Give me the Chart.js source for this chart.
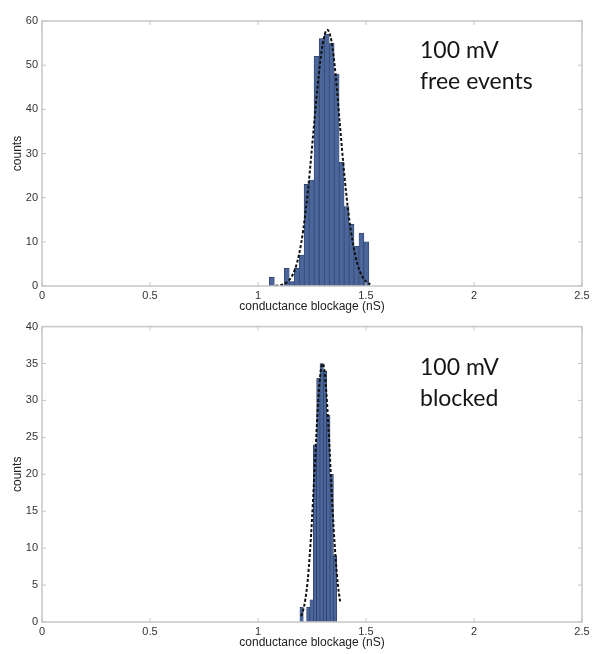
<!DOCTYPE html>
<html>
<head>
<meta charset="utf-8">
<script src="https://cdn.jsdelivr.net/npm/chart.js@4"></script>
<style>
    body { margin: 0; background: #fff; width: 599px; height: 654px; position: relative; overflow: hidden; }
    canvas { position: absolute; left: 0; }
    .note { position: absolute; left: 420px; font-family: Lato, "Open Sans", sans-serif; font-size: 23px; line-height: 31px; color: #151515; }
</style>
</head>
<body>
<canvas id="histTop" width="599" height="316" style="top:0"></canvas>
<canvas id="histBottom" width="599" height="338" style="top:316px"></canvas>
<div class="note" style="top:34px">100 mV<br>free events</div>
<div class="note" style="top:351px">100 mV<br>blocked</div>

<script>
// free events, 100 mV
const topBinCenters = [1.064, 1.087, 1.110, 1.133, 1.156, 1.179, 1.202, 1.225, 1.248, 1.271,
                       1.295, 1.318, 1.341, 1.364, 1.387, 1.410, 1.433, 1.456, 1.479, 1.502];
const topCounts = [2, 0, 0, 4, 1, 4, 7, 23, 24, 52, 56, 57, 55, 48, 28, 18, 14, 9, 12, 10];
const topFitX = [1.08, 1.10, 1.12, 1.14, 1.16, 1.18, 1.20, 1.22, 1.24, 1.26, 1.28, 1.30,
                 1.32, 1.34, 1.36, 1.38, 1.40, 1.42, 1.44, 1.46, 1.48, 1.50, 1.52];
const topFitY = [0.05, 0.15, 0.4, 1.1, 2.5, 5.1, 9.7, 16.7, 26, 36.8, 47.3, 54.9,
                 58, 55.5, 47.5, 36, 25, 16, 9.5, 5, 2.4, 1, 0.4];

// blocked, 100 mV
const botBinCenters = [1.2018, 1.2173, 1.2328, 1.2483, 1.2638, 1.2793, 1.2948, 1.3103, 1.3258, 1.3413, 1.3568];
const botCounts = [2, 0, 2, 3, 24, 33, 35, 34, 28, 20, 9];
const botFitX = [1.20, 1.21, 1.22, 1.23, 1.24, 1.25, 1.26, 1.27, 1.28, 1.29, 1.30,
                 1.31, 1.32, 1.33, 1.34, 1.35, 1.36, 1.37, 1.38];
const botFitY = [0.8, 1.7, 3.2, 5.6, 9.2, 13.9, 19.5, 25.3, 30.5, 33.9, 35,
                 33.4, 29.5, 24.2, 18.3, 12.8, 8.4, 5, 2.8];

const xTitle = 'conductance blockage (nS)';
const yTitle = 'counts';

const boxPlugin = {
    id: 'box',
    afterDatasetsDraw(chart) {
        const { ctx, chartArea: a, scales: { x, y } } = chart;
        ctx.save();
        ctx.strokeStyle = '#c6c6c6';
        ctx.lineWidth = 1.5;
        ctx.strokeRect(a.left, a.top, a.right - a.left, a.bottom - a.top);
        ctx.lineWidth = 1;
        ctx.beginPath();
        x.ticks.forEach(t => {
            const px = x.getPixelForValue(t.value);
            ctx.moveTo(px, a.bottom); ctx.lineTo(px, a.bottom - 4);
            ctx.moveTo(px, a.top); ctx.lineTo(px, a.top + 4);
        });
        y.ticks.forEach(t => {
            const py = y.getPixelForValue(t.value);
            ctx.moveTo(a.left, py); ctx.lineTo(a.left + 4, py);
            ctx.moveTo(a.right, py); ctx.lineTo(a.right - 4, py);
        });
        ctx.stroke();
        ctx.restore();
    }
};

function makeHist(canvas, centers, counts, fitX, fitY, yMax, yStep, padTop, xAxisH, titlePad) {
    return new Chart(canvas, {
        type: 'bar',
        data: {
            datasets: [
                {
                    type: 'line',
                    data: fitX.map((v, i) => ({ x: v, y: fitY[i] })),
                    borderColor: '#111',
                    borderWidth: 2,
                    borderDash: [3, 2],
                    pointRadius: 0,
                    cubicInterpolationMode: 'monotone',
                    fill: false
                },
                {
                    type: 'bar',
                    data: centers.map((v, i) => ({ x: v, y: counts[i] })),
                    backgroundColor: '#4b669a',
                    borderColor: '#24345a',
                    borderWidth: 0.6,
                    barPercentage: 1,
                    categoryPercentage: 1
                }
            ]
        },
        options: {
            responsive: false,
            animation: false,
            devicePixelRatio: 1,
            layout: { padding: { top: padTop, right: 17, bottom: 0, left: 0 } },
            plugins: { legend: { display: false }, tooltip: { enabled: false } },
            scales: {
                x: {
                    type: 'linear',
                    min: 0,
                    max: 2.5,
                    offset: false,
                    grid: { display: false, drawTicks: false },
                    border: { display: false },
                    ticks: {
                        stepSize: 0.5,
                        padding: 3,
                        color: '#333',
                        font: { family: 'Liberation Sans', size: 11 },
                        maxRotation: 0,
                        callback: v => String(v)
                    },
                    title: {
                        display: true,
                        text: xTitle,
                        color: '#222',
                        font: { family: 'Liberation Sans', size: 12 },
                        padding: { top: 0, bottom: titlePad }
                    },
                    afterFit: s => { s.height = xAxisH; }
                },
                y: {
                    min: 0,
                    max: yMax,
                    grid: { display: false, drawTicks: false },
                    border: { display: false },
                    ticks: {
                        stepSize: yStep,
                        padding: 4,
                        color: '#333',
                        font: { family: 'Liberation Sans', size: 11 }
                    },
                    title: {
                        display: true,
                        text: yTitle,
                        color: '#222',
                        font: { family: 'Liberation Sans', size: 12 },
                        padding: { top: 10, bottom: 0 }
                    },
                    afterFit: s => { s.width = 42; }
                }
            }
        },
        plugins: [boxPlugin]
    });
}

makeHist(document.getElementById('histTop'), topBinCenters, topCounts, topFitX, topFitY, 60, 10, 21, 30, 2);
makeHist(document.getElementById('histBottom'), botBinCenters, botCounts, botFitX, botFitY, 40, 5, 6, 32, 4);
</script>
</body>
</html>
